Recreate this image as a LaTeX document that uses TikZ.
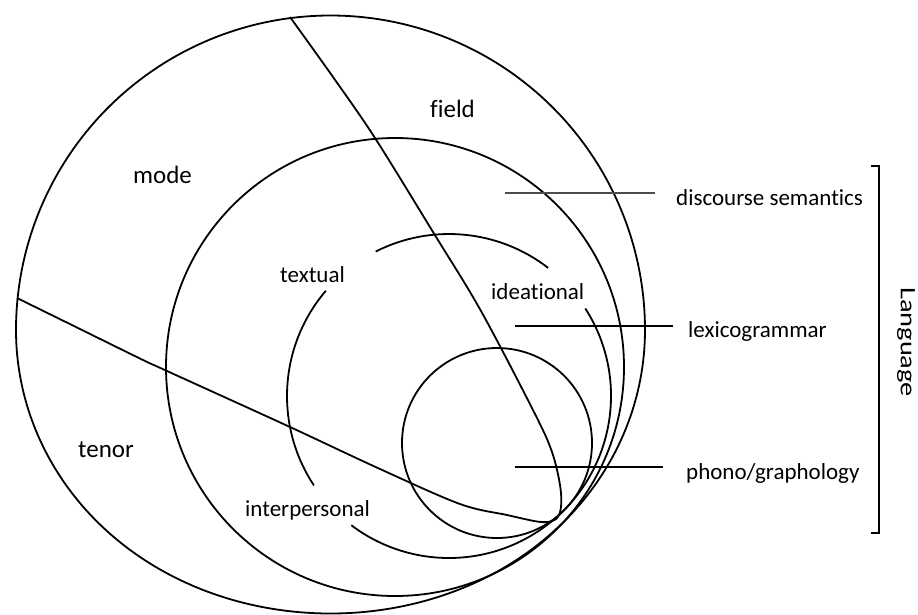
\documentclass[tikz,border=0pt]{standalone}
\usepackage{fontspec}
\setmainfont[Ligatures=NoCommon]{Carlito}
\usetikzlibrary{calc}
\begin{document}
\begin{tikzpicture}[x=1pt,y=-1pt,
  ring/.style={line width=1.8pt, black},
  leader/.style={line width=1.7pt, black},
  bigtxt/.style={font=\fontsize{25}{30}\selectfont, anchor=base west, inner sep=0pt},
  smalltxt/.style={font=\fontsize{23}{28}\selectfont, anchor=base west, inner sep=0pt}]
\useasboundingbox (0,0) rectangle (918,614);
\fill[white] (0,0) rectangle (918,614);

% centres
\coordinate (cA) at (330.5,330);
\coordinate (cB) at (395,367);
\coordinate (cC) at (449,396);
\coordinate (cS) at (497,443);

% outer ring (context), slightly flattened at the bottom
\draw[ring] plot[variable=\t, domain=0:360, samples=181, smooth cycle]
  ({330.5+(314.5-31*min(sin(\t),0)*min(sin(\t),0))*cos(\t)},
   {330-(314.5-31*min(sin(\t),0)*min(sin(\t),0))*sin(\t)});

% second ring
\draw[ring] (cB) circle[radius=229pt];
% smallest ring
\draw[ring] (cS) circle[radius=95pt];
% metafunction ring (broken at labels)
\draw[ring] ([shift={(116.9:162pt)}]cC) arc[start angle=116.9, end angle=52.3, radius=162pt];
\draw[ring] ([shift={(32.7:162pt)}]cC) arc[start angle=32.7, end angle=-127.1, radius=162pt];
\draw[ring] ([shift={(139.5:162pt)}]cC) arc[start angle=139.5, end angle=213.5, radius=162pt];

% field / tenor dividing curve
\draw[ring] plot[smooth, tension=0.55] coordinates {
 (290,17) (333,77) (375,138) (433,232) (481,311) (535,414) (552,452)
 (560,485) (561,507) (556,519) (541,522) (507,515) (460,504) (380,469)
 (290,427) (167,371) (143,360) (80,329) (17,298)};

% labels
\node[bigtxt] (mode) at (133,183) {mode};
\node[bigtxt] (field) at (430,117) {field};
\node[bigtxt] (tenor) at (78,457) {tenor};
\node[smalltxt] (textual) at (280,282) {textual};
\node[smalltxt] (ideational) at (491,299) {ideational};
\node[smalltxt] (interpersonal) at (245,516) {interpersonal};
\node[smalltxt] (ds) at (676,205) {discourse semantics};
\node[smalltxt] (lg) at (688,337) {lexicogrammar};
\node[smalltxt] (pg) at (686,479) {phono/graphology};

% leader lines
\coordinate (dsA) at (505,193); \coordinate (dsB) at (655,193);
\coordinate (lgA) at (515,326); \coordinate (lgB) at (673,326);
\coordinate (pgA) at (515,467); \coordinate (pgB) at (663,467);
\draw[leader, black!70] (dsA) -- (dsB);
\draw[leader] (lgA) -- (lgB);
\draw[leader] (pgA) -- (pgB);

% bracket
\coordinate (brTL) at (871,166); \coordinate (brT) at (879,166);
\coordinate (brB) at (879,533); \coordinate (brBL) at (871,533);
\draw[line width=2.4pt, line cap=butt, line join=miter] (brTL) -- (brT) -- (brB) -- (brBL);
\node[rotate=-90, inner sep=0pt, font=\fontsize{22}{26}\selectfont] (lang) at (906,342) {\scalebox{1.29}[1]{Language}};
\end{tikzpicture}
\end{document}
